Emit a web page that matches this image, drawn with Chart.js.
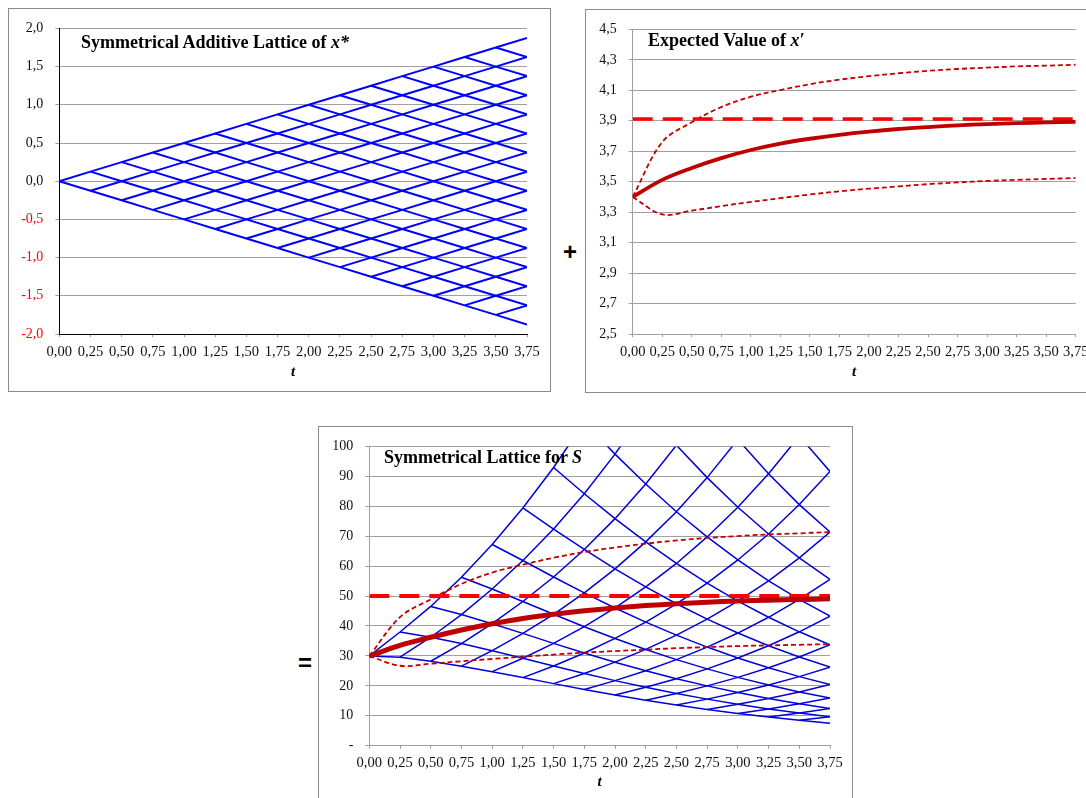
<!DOCTYPE html>
<html>
<head>
<meta charset="utf-8">
<script src="https://cdn.jsdelivr.net/npm/chart.js@4.4.1/dist/chart.umd.min.js"></script>
<style>
html, body { margin: 0; padding: 0; background: #fff; }
body { width: 1086px; height: 798px; overflow: hidden; position: relative; }
.box { position: absolute; border: 1px solid #8c8c8c; box-sizing: border-box; }
canvas { position: absolute; }
.title { position: absolute; font: bold 18px/18px "Liberation Serif", serif; color: #000; white-space: nowrap; }
.sign { position: absolute; font: bold 24px/24px "Liberation Sans", sans-serif; color: #000; }
</style>
</head>
<body>
<div class="box" style="left:8px;top:8px;width:543px;height:384px"></div>
<div class="box" style="left:585px;top:9px;width:600px;height:384px"></div>
<div class="box" style="left:318px;top:426px;width:535px;height:500px"></div>

<canvas id="lattice" width="542" height="383" style="left:8px;top:8px"></canvas>
<canvas id="expected" width="530" height="383" style="left:585px;top:9px"></canvas>
<canvas id="stock" width="535" height="372" style="left:318px;top:426px"></canvas>

<div class="title" style="left:81px;top:33px">Symmetrical Additive Lattice of <i>x*</i></div>
<div class="title" style="left:648px;top:31px">Expected Value of <i>x′</i></div>
<div class="title" style="left:384px;top:448px">Symmetrical Lattice for <i>S</i></div>
<div class="sign" style="left:563px;top:240px">+</div>
<div class="sign" style="left:298px;top:651px">=</div>

<script>
// time steps (years)
var times = [0, 0.25, 0.5, 0.75, 1, 1.25, 1.5, 1.75, 2, 2.25, 2.5, 2.75, 3, 3.25, 3.5, 3.75];
// lattice step of x* per period
var latticeStep = 0.125;
// expected value of x' and its bands
var expectedX = [3.40, 3.512, 3.590, 3.655, 3.708, 3.750, 3.782, 3.808, 3.829, 3.846, 3.859, 3.870, 3.878, 3.884, 3.889, 3.893];
var upperX    = [3.40, 3.760, 3.890, 3.990, 4.058, 4.102, 4.140, 4.170, 4.193, 4.212, 4.228, 4.240, 4.249, 4.257, 4.262, 4.268];
var lowerX    = [3.40, 3.285, 3.310, 3.340, 3.367, 3.392, 3.416, 3.437, 3.454, 3.469, 3.484, 3.495, 3.505, 3.512, 3.518, 3.524];
var longRunX = 3.912;

var tMin = 0, tMax = 3.75;
var gridColor = '#a0a0a0';
var serif = 'Liberation Serif';

function comma(v, d) { return v.toFixed(d).replace('.', ','); }

function pts(vals) {
    return vals.map(function(v, i) { return {x: times[i], y: v}; });
}

// lattice lines: rising from each lower-boundary node, falling from each upper one
function latticeLines(transform, color, width) {
    var sets = [];
    var n = times.length;
    for (var k = 0; k < n - 1; k++) {
        var up = [], down = [];
        for (var i = k; i < n; i++) {
            up.push({x: times[i], y: transform((i - 2 * k) * latticeStep, i)});
            down.push({x: times[i], y: transform((2 * k - i) * latticeStep, i)});
        }
        [up, down].forEach(function(d) {
            sets.push({data: d, borderColor: color, borderWidth: width, pointRadius: 0, tension: 0, order: 10});
        });
    }
    return sets;
}

function redLines(f, solidW, dashW, thinW) {
    return [
        {data: pts(expectedX.map(f)), borderColor: '#c00000', borderWidth: solidW, pointRadius: 0, tension: 0.35, order: 1},
        {data: [{x: tMin, y: f(longRunX)}, {x: tMax, y: f(longRunX)}], borderColor: '#ff0000', borderWidth: dashW,
            borderDash: [20, 10], pointRadius: 0, order: 2},
        {data: pts(upperX.map(f)), borderColor: '#c00000', borderWidth: thinW, borderDash: [5, 3], pointRadius: 0, tension: 0.35, order: 3},
        {data: pts(lowerX.map(f)), borderColor: '#c00000', borderWidth: thinW, borderDash: [5, 3], pointRadius: 0, tension: 0.35, order: 3}
    ];
}

function xScale(axisH, titlePad, borderColor) {
    return {
        type: 'linear', min: tMin, max: tMax,
        afterFit: function(s) { s.height = axisH; },
        border: {color: borderColor, width: 1},
        grid: {drawOnChartArea: false, drawTicks: true, tickLength: 3, color: gridColor},
        ticks: {
            stepSize: 0.25, autoSkip: false, maxRotation: 0, minRotation: 0, padding: 6,
            color: '#111', font: {family: serif, size: 14.5},
            callback: function(v) { return comma(v, 2); }
        },
        title: {display: true, text: 't', color: '#000', padding: {top: 0, bottom: titlePad},
            font: {family: serif, size: 15, style: 'italic', weight: 'bold'}}
    };
}

function yScale(axisW, min, max, step, labelFn, colorFn, borderColor) {
    return {
        min: min, max: max,
        afterFit: function(s) { s.width = axisW; },
        border: {color: borderColor, width: 1},
        grid: {color: gridColor, lineWidth: 1, tickLength: 4},
        ticks: {stepSize: step, padding: 12, color: colorFn, font: {family: serif, size: 14}, callback: labelFn}
    };
}

function baseOptions(pad, scales) {
    return {
        responsive: false, animation: false, devicePixelRatio: 1,
        layout: {padding: pad},
        plugins: {legend: {display: false}, tooltip: {enabled: false}},
        scales: scales
    };
}

// Symmetrical additive lattice of x*
new Chart(document.getElementById('lattice'), {
    type: 'line',
    data: {datasets: latticeLines(function(v) { return v; }, '#0000ff', 2)},
    options: baseOptions({left: 0, top: 13, right: 23, bottom: 0}, {
        x: xScale(57, 9.6, '#000'),
        y: yScale(51.3, -2, 2, 0.5, function(v) { return comma(v, 1); },
            function(c) { return c.tick.value < 0 ? '#ff0000' : '#111'; }, '#000')
    })
});

// Expected value of x'
new Chart(document.getElementById('expected'), {
    type: 'line',
    data: {datasets: redLines(function(v) { return v; }, 3.8, 3.5, 1.8)},
    options: baseOptions({left: 0, top: 12, right: 39.3, bottom: 0}, {
        x: xScale(58, 10.6, gridColor),
        y: yScale(47.7, 2.5, 4.5, 0.2, function(v) { return comma(v, 1); }, '#111', gridColor)
    })
});

// Symmetrical lattice for S = exp(x* + x')
new Chart(document.getElementById('stock'), {
    type: 'line',
    data: {datasets: redLines(Math.exp, 5, 4, 1.8).concat(
        latticeLines(function(v, i) { return Math.exp(v + expectedX[i]); }, '#0000d8', 1.5))},
    options: baseOptions({left: 0, top: 12.3, right: 23, bottom: 0}, {
        x: xScale(52.3, 6.6, gridColor),
        y: yScale(51.3, 0, 100, 10, function(v) { return v === 0 ? '-' : String(v); }, '#111', gridColor)
    })
});
</script>
</body>
</html>
